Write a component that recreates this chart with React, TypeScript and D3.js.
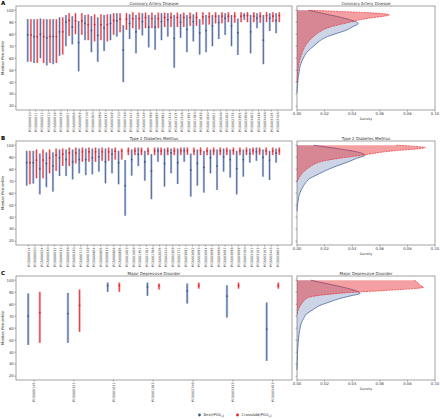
import React from "react";
import * as d3 from "d3";

const labelsA = ["PGS000010","PGS000011","PGS000012","PGS000013","PGS000018","PGS000019","PGS000057","PGS000058","PGS000059","PGS000116","PGS000200","PGS000296","PGS000337","PGS000349","PGS000710","PGS000746","PGS000747","PGS000748","PGS000749","PGS000798","PGS000899","PGS000962","PGS001314","PGS001315","PGS001316","PGS001355","PGS001780","PGS001839","PGS001840","PGS002001","PGS002048","PGS002262","PGS002775","PGS003355","PGS003356","PGS003402","PGS003438","PGS003446","PGS003725","PGS003726"];
const blueHiA = [92.5,92.5,93,92.5,92.5,94,96,95,91,96,95,94,96,96.6,97.5,87.5,96.6,96,97.5,96,96,97.5,97.5,96,96.7,96,96.6,92.5,96,96,96,97.5,96,93,97.5,96,97.5,96,97.5,97.5];
const blueLoA = [57,56,60,54,55,62,70,71.5,49,75,65,57,66,75,78,40,76,64,79,69,67,75,78,52,77,65,74,63,65,70,76,79.4,70,62.7,92,64,85,55,82.7,80.8];
const blueMedA = [79.5,78,80,77,78,82,90,86,73,89,83,79,85,89,91,67,89,82,90.5,86,86,90.5,92,76.5,90,84,90.5,81,83,87,89.7,93.3,87,81.3,95.5,82,93.3,75,93.3,91.4];
const redHiA = [92.5,92.5,92.5,92.5,92.5,94,97.5,97.5,97.5,96.5,96.5,96.5,96.5,97.5,97.5,97.5,98.3,98,98,98,98,98,98,98,98,98,98.3,98.3,98.3,98.3,98.3,98.3,98.3,98.3,98.3,98.3,98.3,98.3,98.3,98.3];
const redLoA = [57,56,56,56,56,63,78.5,80,79.5,75,74,75,74,79.5,81.6,83.6,85,84,85,85,85,86,86,86,86,87,87,88,88,89,89,90,89.5,90,90,90,89.5,90,90,90];
const redMedA = [79.5,78,78,78,78,82,91.5,91,91,88,88,88,88,91.5,92.5,92.5,93,93,94,93,93,94,94,94,94,94,94,94.5,94.5,95,95,95,95,95,95.5,95,95,95.5,95,95.5];

const labelsB = ["PGS000014","PGS000020","PGS000024","PGS000030","PGS000031","PGS000032","PGS000036","PGS000330","PGS000713","PGS000729","PGS000804","PGS000805","PGS000832","PGS000864","PGS000865","PGS001003","PGS001008","PGS001357","PGS001781","PGS001788","PGS002025","PGS002243","PGS002308","PGS002771","PGS003091","PGS003092","PGS003093","PGS003094","PGS003095","PGS003096","PGS003097","PGS003098","PGS003099","PGS003100","PGS003101","PGS003102","PGS003103","PGS003443","PGS003867"];
const blueHiB = [95.3,95.3,93,94,94,96.4,96.4,96.4,97.2,97.2,97.2,97.2,97.2,97.2,95.3,87.6,96.4,98,95.3,92.5,98,97.2,97.2,97.2,98,93,96.4,95.3,96.4,96.4,97.2,96.4,95.3,96.4,97.2,98,96.4,95.3,97.2];
const blueLoB = [66.3,68,59,65,61.3,74.3,74.3,71.5,76.5,75,75.7,78,68.2,76.5,67.4,41.2,74.6,82.6,70.4,55,86.2,65.5,76.5,67.7,86.2,57.2,66.3,60.5,76.5,62.7,78,73,59,73.8,85.4,87,73.8,71,85.4];
const blueMedB = [85.4,85.4,80.4,84.8,82.6,89.5,88,86.2,88,88,89.5,90.3,86.2,92.5,85.4,66.3,88,92.5,86.2,78.5,95.3,84.8,93.6,85.4,95.3,79.3,84.8,81.5,89.5,82.6,90.3,88,80.4,88,93,94.5,89.8,87.6,93.6];
const redHiB = [95.3,96.4,96.4,96.4,97.2,97.2,98,98,98,98,98,98,98,98,97.2,98,98,98,98,98,98,98,98,98,98,98,98,98,98,98,98,98,98,98,98,98,98,98,98];
const redLoB = [67.4,72.4,72.4,76.5,78.5,82.6,82.6,84.8,86.2,86.2,86.2,87,87,88,88,91.7,91.7,91.7,91.7,91.7,91.7,91.7,91.7,91.7,92,91.7,91.7,91.7,91.7,91.7,91.7,92,91.7,91.7,92,92,91.7,91.7,92];
const redMedB = [85.4,87.6,87.6,89.5,91.7,92.5,93.6,93.6,94.5,94.5,94.5,94.5,94.5,95,95.3,95.3,95.3,95.3,95.3,95.3,95.3,95.3,95.3,95.3,95.5,95.3,95.3,95.3,95.3,95.3,95.3,95.5,95.3,95.3,95.5,95.5,95.3,95.3,95.5];

const labelsC = ["PGS000145","PGS000327","PGS001021","PGS001282","PGS002746","PGS003333","PGS003453"];
const blueHiC = [89,89.4,98,98,97.2,95.8,81.4];
const blueLoC = [46,47.8,90.3,87,80.5,68.9,32.8];
const blueMedC = [70,72.2,95.5,94.4,91,86.7,59.2];
const redHiC = [90.3,92.2,98,97.2,98,98,98];
const redLoC = [47.8,57,90.3,92.2,93,93,93];
const redMedC = [73,79,95.5,95.5,95.5,95.5,95.5];

// density curves: [percentile, density]
const densBlueA = [[100,0.008],[97,0.02],[94,0.032],[91,0.041],[89,0.0444],[86,0.04],[83.5,0.036],[80,0.027],[78,0.022],[74,0.016],[70,0.012],[66,0.008],[61,0.005],[56,0.003],[51.5,0.002],[45,0.001],[39,0.0005],[35,0.0002],[31,0]];
const densRedA = [[100,0.01],[99,0.03],[98,0.05],[97,0.063],[96,0.067],[95,0.063],[93.5,0.053],[92,0.046],[91,0.042],[88,0.031],[86,0.024],[83,0.018],[80,0.014],[76,0.01],[72,0.007],[68,0.005],[62,0.003],[56,0.0015],[50,0.0008],[45,0.0003],[40,0]];
const densBlueB = [[100,0.012],[97,0.03],[94,0.045],[91.7,0.0493],[89,0.043],[86.5,0.038],[84.8,0.034],[81,0.025],[77.9,0.019],[75,0.014],[72.4,0.0094],[69,0.0065],[65.5,0.0044],[60,0.002],[55,0.001],[50,0.0003],[45,0]];
const densRedB = [[100,0.072],[99,0.086],[98,0.093],[97,0.088],[95.5,0.072],[94,0.06],[92.5,0.052],[91,0.043],[89,0.03],[87,0.02],[85,0.014],[82,0.0094],[78,0.005],[73.8,0.002],[69.6,0]];
const densBlueC = [[100,0.01],[97,0.022],[94,0.034],[91,0.043],[89,0.0457],[87,0.039],[84.7,0.031],[82,0.024],[79,0.0167],[75,0.011],[72,0.007],[68,0.0048],[65,0.0034],[61,0.0024],[55,0.0015],[47,0.0008],[40,0.0004],[33,0.0002],[25,0]];
const densRedC = [[100,0.085],[98.6,0.087],[96,0.089],[94,0.0916],[93,0.085],[92,0.072],[91,0.058],[90.3,0.046],[89,0.03],[87.5,0.017],[86,0.0094],[84,0.006],[82,0.0044],[78,0.002],[75,0.0008],[71,0]];

const densityTicks = [0, 0.02, 0.04, 0.06, 0.08, 0.1];
const yTicks = [20, 30, 40, 50, 60, 70, 80, 90, 100];

const BLUE = "#3a5793";
const BLUE_L = "#a7b4d0";
const RED = "#e51d24";
const RED_L = "#f3a0a2";
const GRID = "#8c8c8c";
const FONT = "DejaVu Sans, sans-serif";

const PL = 16, PR = 292, DL = 297, DR = 435, PH = 104;

type Panel = {
  letter: string; title: string; top: number; labels: string[];
  xr: [number, number]; off: number; bw: number;
  bHi: number[]; bLo: number[]; bMed: number[];
  rHi: number[]; rLo: number[]; rMed: number[];
  dBlue: number[][]; dRed: number[][];
};

const panels: Panel[] = [
  { letter: "A", title: "Coronary Artery Disease", top: 6, labels: labelsA, xr: [29.3, 277.7], off: 1.6, bw: 2.2,
    bHi: blueHiA, bLo: blueLoA, bMed: blueMedA, rHi: redHiA, rLo: redLoA, rMed: redMedA, dBlue: densBlueA, dRed: densRedA },
  { letter: "B", title: "Type 2 Diabetes Mellitus", top: 141, labels: labelsB, xr: [28.3, 277.7], off: 1.6, bw: 2.2,
    bHi: blueHiB, bLo: blueLoB, bMed: blueMedB, rHi: redHiB, rLo: redLoB, rMed: redMedB, dBlue: densBlueB, dRed: densRedB },
  { letter: "C", title: "Major Depressive Disorder", top: 276, labels: labelsC, xr: [34, 272.5], off: 5.8, bw: 2.4,
    bHi: blueHiC, bLo: blueLoC, bMed: blueMedC, rHi: redHiC, rLo: redLoC, rMed: redMedC, dBlue: densBlueC, dRed: densRedC },
];

function PanelView({ p }: { p: Panel }) {
  const y = d3.scaleLinear().domain([16.8, 103.5]).range([p.top + PH, p.top]);
  const x = d3.scalePoint<string>().domain(p.labels).range(p.xr);
  const dx = d3.scaleLinear().domain([0, 0.1]).range([DL, DR]);
  const bottom = p.top + PH;
  const area = d3.area<number[]>().y((d) => y(d[0])).x0(dx(0)).x1((d) => dx(d[1])).curve(d3.curveMonotoneY);
  const line = d3.line<number[]>().y((d) => y(d[0])).x((d) => dx(d[1])).curve(d3.curveMonotoneY);
  const series = [
    { hi: p.bHi, lo: p.bLo, med: p.bMed, c: BLUE, cl: BLUE_L, s: -1 },
    { hi: p.rHi, lo: p.rLo, med: p.rMed, c: RED, cl: RED_L, s: 1 },
  ];
  return (
    <g>
      <text x={1} y={p.top - 1.5} fontSize={5.5} fontWeight="bold" fontFamily={FONT}>{p.letter}</text>
      <text x={(PL + PR) / 2} y={p.top - 1.3} fontSize={4} textAnchor="middle" fontFamily={FONT} fill="#333">{p.title}</text>
      <text x={(DL + DR) / 2} y={p.top - 1.3} fontSize={4} textAnchor="middle" fontFamily={FONT} fill="#333">{p.title}</text>
      <rect x={PL} y={p.top} width={PR - PL} height={PH} fill="none" stroke={GRID} strokeWidth={0.8} />
      <rect x={DL} y={p.top} width={DR - DL} height={PH} fill="none" stroke={GRID} strokeWidth={0.8} />
      {yTicks.map((t) => (
        <g key={t}>
          <line x1={PL - 1.5} x2={PL} y1={y(t)} y2={y(t)} stroke="#555" strokeWidth={0.5} />
          <text x={PL - 2.2} y={y(t)} dy="0.35em" fontSize={3.8} textAnchor="end" fontFamily={FONT} fill="#333">{t}</text>
          <line x1={DL - 1.5} x2={DL} y1={y(t)} y2={y(t)} stroke="#555" strokeWidth={0.5} />
        </g>
      ))}
      <text transform={`translate(4.2,${p.top + PH / 2}) rotate(-90)`} fontSize={3.8} textAnchor="middle" fontFamily={FONT} fill="#333">Median Percentile</text>
      {p.labels.map((l) => (
        <g key={l}>
          <line x1={x(l)!} x2={x(l)!} y1={bottom} y2={bottom + 1.5} stroke="#555" strokeWidth={0.5} />
          <text transform={`translate(${x(l)! + 1.2},${bottom + 2.5}) rotate(-90)`} fontSize={3.3} textAnchor="end" fontFamily={FONT} fill="#333">{l}</text>
        </g>
      ))}
      {series.map((s, si) => (
        <g key={si}>
          {p.labels.map((l, i) => {
            const cx = x(l)! + s.s * p.off;
            return (
              <g key={l}>
                <rect x={cx - p.bw / 2} y={y(s.hi[i])} width={p.bw} height={y(s.lo[i]) - y(s.hi[i])} fill={s.cl} opacity={0.85} />
                <line x1={cx} x2={cx} y1={y(s.hi[i])} y2={y(s.lo[i])} stroke={s.c} strokeWidth={0.8} />
                <circle cx={cx} cy={y(s.med[i])} r={0.9} fill={s.c} />
              </g>
            );
          })}
        </g>
      ))}
      {densityTicks.map((t) => (
        <g key={t}>
          <line x1={dx(t)} x2={dx(t)} y1={bottom} y2={bottom + 1.5} stroke="#555" strokeWidth={0.5} />
          <text x={dx(t)} y={bottom + 5.2} fontSize={3.8} textAnchor="middle" fontFamily={FONT} fill="#333">{t.toFixed(2)}</text>
        </g>
      ))}
      <text x={(DL + DR) / 2} y={bottom + 9.5} fontSize={3.3} textAnchor="middle" fontFamily={FONT} fill="#333">Density</text>
      <path d={area(p.dBlue)!} fill="#4a64a0" fillOpacity={0.28} />
      <path d={line(p.dBlue)!} fill="none" stroke={BLUE} strokeWidth={0.7} />
      <path d={area(p.dRed)!} fill={RED} fillOpacity={0.42} />
      <path d={line(p.dRed)!} fill="none" stroke={RED} strokeWidth={0.6} strokeDasharray="2,0.8" />
    </g>
  );
}

export default function App() {
  return (
    <svg width={440} height={419} style={{ position: "fixed", left: 0, top: 0, background: "#fff" }}>
      {panels.map((p) => <PanelView key={p.letter} p={p} />)}
      <circle cx={199.5} cy={415} r={1.4} fill={BLUE} />
      <text x={203.5} y={416.3} fontSize={3.8} fontFamily={FONT} fill="#333">Best(PGS<tspan fontSize={2.8} dy={0.8}>L</tspan>)</text>
      <circle cx={237.5} cy={415} r={1.4} fill={RED} />
      <text x={241.5} y={416.3} fontSize={3.8} fontFamily={FONT} fill="#333">CrossAdd(PGS<tspan fontSize={2.8} dy={0.8}>L</tspan>)</text>
    </svg>
  );
}
